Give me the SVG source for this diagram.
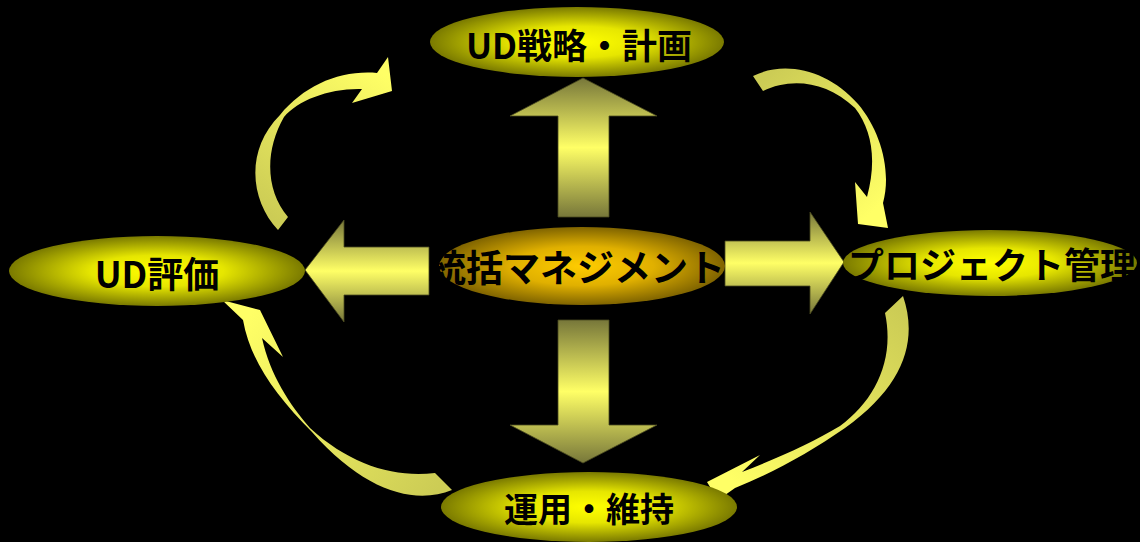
<svg xmlns="http://www.w3.org/2000/svg" width="1140" height="542" viewBox="0 0 1140 542">
<defs>
<radialGradient id="gY" cx="50%" cy="50%" r="50%">
<stop offset="0" stop-color="#ffff00"/>
<stop offset="0.45" stop-color="#e6e600"/>
<stop offset="1" stop-color="#7a7a00"/>
</radialGradient>
<radialGradient id="gO" cx="50%" cy="50%" r="50%">
<stop offset="0" stop-color="#ffcc00"/>
<stop offset="0.5" stop-color="#e0b000"/>
<stop offset="1" stop-color="#806400"/>
</radialGradient>
<linearGradient id="gB" x1="0" y1="0" x2="0" y2="1">
<stop offset="0" stop-color="#77773a"/>
<stop offset="0.5" stop-color="#ffff66"/>
<stop offset="1" stop-color="#77773a"/>
</linearGradient>
<linearGradient id="c1" gradientUnits="userSpaceOnUse" x1="283" y1="224" x2="385" y2="75">
<stop offset="0" stop-color="#cccc55"/>
<stop offset="1" stop-color="#ffff66"/>
</linearGradient>
<linearGradient id="c2" gradientUnits="userSpaceOnUse" x1="758" y1="84" x2="872" y2="212">
<stop offset="0" stop-color="#cccc55"/>
<stop offset="1" stop-color="#ffff66"/>
</linearGradient>
<linearGradient id="c3" gradientUnits="userSpaceOnUse" x1="894" y1="305" x2="730" y2="480">
<stop offset="0" stop-color="#cccc55"/>
<stop offset="1" stop-color="#ffff66"/>
</linearGradient>
<linearGradient id="c4" gradientUnits="userSpaceOnUse" x1="443" y1="482" x2="245" y2="320">
<stop offset="0" stop-color="#cccc55"/>
<stop offset="1" stop-color="#ffff66"/>
</linearGradient>
<style>
.blk{fill:url(#gB);stroke:#4a4a20;stroke-width:0.8}
.lbl{font-family:"Noto Sans CJK JP","Noto Sans",sans-serif;font-weight:700;font-size:36px;fill:#000;text-anchor:middle}
</style>
</defs>
<rect width="1140" height="542" fill="#000"/>
<g id="connectors">
<path fill="url(#c1)" d="M278,230 C250,200 245,150 280,115 C305,85 340,70 377,73 L388,57 L392,91 L352,103 L362,89 C330,88 298,100 284,117 C265,150 265,190 288,217 Z"/>
<path fill="url(#c2)" d="M753,76 C785,60 828,70 858,104 C880,130 892,170 883,203 L888,228 L858,224 L855,182 L867,197 C877,160 872,130 855,108 C825,80 790,78 763,91 Z"/>
<path fill="url(#c3)" d="M903,296 C918,340 905,385 845,428 C810,452 775,472 735,488 L718,500 L707,482 L760,455 L742,472 C778,458 812,443 840,426 C875,400 895,360 885,313 Z"/>
<path fill="url(#c4)" d="M452,490 C415,505 365,492 312,432 C275,395 250,360 243,320 L222,300 L260,310 L283,357 L262,338 C270,375 290,405 310,428 C350,465 395,478 435,473 Z"/>
<polygon class="blk" points="583,78 657,116 609,116 609,217 558,217 558,116 510,116"/>
<polygon class="blk" points="558,320 609,320 609,425 657,425 583,463 510,425 558,425"/>
<polygon class="blk" points="305,270 344,220 344,247 429,247 429,295 344,295 344,322"/>
<polygon class="blk" points="725,241 810,241 810,212 844,262 810,314 810,286 725,286"/>
</g>
<g id="node-plan">
<ellipse cx="577" cy="42" rx="147" ry="35" fill="url(#gY)"/>
<text class="lbl" x="579" y="59" style="font-size:35px">UD戦略・計画</text>
</g>
<g id="node-center">
<ellipse cx="582" cy="266" rx="143" ry="39" fill="url(#gO)"/>
<text class="lbl" x="577" y="282" style="font-size:37px">統括マネジメント</text>
</g>
<g id="node-eval">
<ellipse cx="157" cy="271" rx="148" ry="35" fill="url(#gY)"/>
<text class="lbl" x="157" y="288">UD評価</text>
</g>
<g id="node-project">
<ellipse cx="990" cy="263" rx="147" ry="33" fill="url(#gY)"/>
<text class="lbl" x="992" y="279">プロジェクト管理</text>
</g>
<g id="node-ops">
<ellipse cx="589" cy="507" rx="148" ry="35" fill="url(#gY)"/>
<text class="lbl" x="589" y="522" style="font-size:34px">運用・維持</text>
</g>
</svg>
